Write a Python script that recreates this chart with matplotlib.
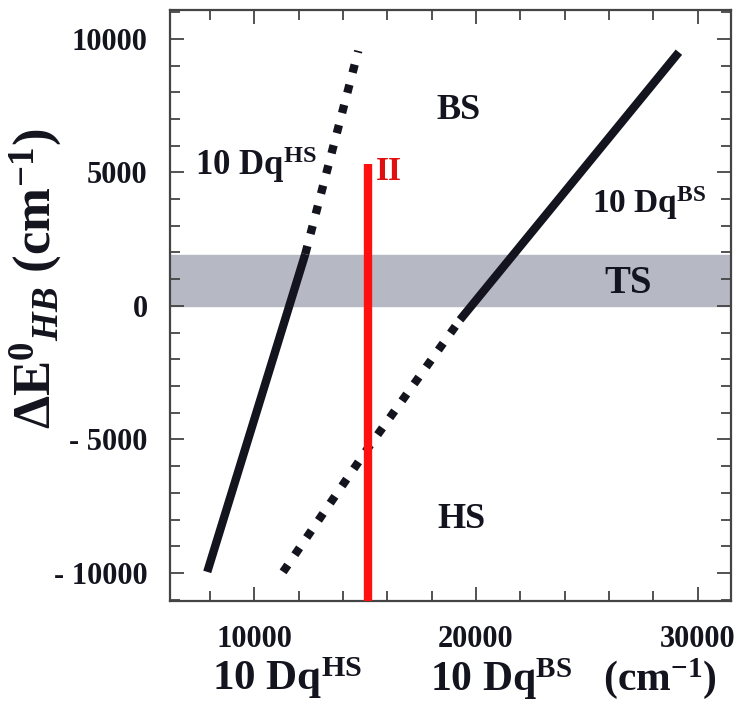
import matplotlib
matplotlib.use("Agg")
import matplotlib.pyplot as plt
from matplotlib.ticker import MultipleLocator

plt.rcParams['font.family'] = 'Liberation Serif'
plt.rcParams['font.weight'] = 'bold'
plt.rcParams['mathtext.fontset'] = 'custom'
plt.rcParams['mathtext.rm'] = 'Liberation Serif:bold'
plt.rcParams['mathtext.bf'] = 'Liberation Serif:bold'
plt.rcParams['mathtext.it'] = 'Liberation Serif:italic:bold'
plt.rcParams['mathtext.default'] = 'rm'

# 10Dq (HS) branch: solid below the TS band, dotted above it
hs_solid_x = [7880, 12300]
hs_solid_y = [-9960, 1940]
hs_dot_x = [12300, 14690]
hs_dot_y = [1940, 9550]

# 10Dq (BS) branch: dotted below the band, solid above
bs_dot_x = [11300, 15090, 19280]
bs_dot_y = [-9960, -5370, -520]
bs_solid_x = [19280, 29150]
bs_solid_y = [-520, 9500]

# TS band and the vertical marker II
ts_low, ts_high = 0, 1900
marker_x = 15110
marker_top = 5300

x_lim = (6200, 31500)
y_lim = (-11050, 11080)
x_ticks = [10000, 20000, 30000]
x_tick_labels = ['10000', '20000', '30000']
y_ticks = [-10000, -5000, 0, 5000, 10000]
y_tick_labels = ['- 10000', '- 5000', '0', '5000', '10000']

ink = '#14141f'

fig = plt.figure(figsize=(7.38, 7.04), dpi=100)
ax = fig.add_axes([170/738, 1-601/704, (731-170)/738, (601-10)/704])

ax.axhspan(ts_low, ts_high, color='#b6b9c3', zorder=1)

dots = dict(color=ink, lw=6, linestyle=(0, (1, 1.5)), dash_capstyle='butt', zorder=3)
ax.plot(hs_solid_x, hs_solid_y, color=ink, lw=6, solid_capstyle='butt', zorder=3)
ax.plot(hs_dot_x, hs_dot_y, **dots)
ax.plot(bs_dot_x, bs_dot_y, **dots)
ax.plot(bs_solid_x, bs_solid_y, color=ink, lw=6, solid_capstyle='butt', zorder=3)

ax.vlines(marker_x, y_lim[0], marker_top, color='#ff1010', lw=6, zorder=4)
ax.text(15480, 5050, 'II', color='#e01010', fontsize=24, fontweight='bold',
        ha='left', va='center')

ax.text(19200, 7300, 'BS', fontsize=26, color=ink, ha='center', va='center')
ax.text(19330, -7980, 'HS', fontsize=26, color=ink, ha='center', va='center')
ax.text(26850, 850, 'TS', fontsize=28, color=ink, ha='center', va='center')
ax.text(7340, 4890, r'10 Dq$^{\mathrm{HS}}$', fontsize=25, color=ink,
        ha='left', va='baseline')
ax.text(25230, 3470, r'10 Dq$^{\mathrm{BS}}$', fontsize=24, color=ink,
        ha='left', va='baseline')

ax.set_xlim(*x_lim)
ax.set_ylim(*y_lim)
ax.set_xticks(x_ticks, labels=x_tick_labels)
ax.set_yticks(y_ticks, labels=y_tick_labels)
ax.xaxis.set_minor_locator(MultipleLocator(2000))
ax.yaxis.set_minor_locator(MultipleLocator(1000))
ax.tick_params(which='both', direction='in', top=True, right=True,
               color='#444444', width=1.3)
ax.tick_params(which='major', length=10)
ax.tick_params(which='minor', length=7)
ax.tick_params(axis='y', pad=16, labelsize=22, labelcolor=ink)
ax.tick_params(axis='x', pad=17, labelsize=22, labelcolor=ink)
for s in ax.spines.values():
    s.set_color('#444444')
    s.set_linewidth(1.6)

fig.text(212/738, 1-690/704, r'10 Dq$^{\mathrm{HS}}$', fontsize=31,
         color=ink, ha='left', va='baseline')
fig.text(430/738, 1-690/704, r'10 Dq$^{\mathrm{BS}}$   (cm$^{-1}$)', fontsize=30,
         color=ink, ha='left', va='baseline')
fig.text(36/738, 1-279/704,
         r'$\Delta\mathrm{E}^{0}{}_{\mathit{HB}}\ (\mathrm{cm}^{-1})$',
         fontsize=38, color=ink, rotation=90, ha='center', va='center')

fig.savefig('out.png', dpi=100)
